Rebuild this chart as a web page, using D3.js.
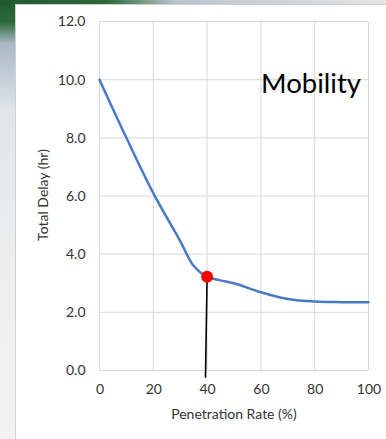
<!DOCTYPE html>
<html>
<head>
<meta charset="utf-8">
<script src="https://cdn.jsdelivr.net/npm/d3@7"></script>
<style>
  html, body { margin: 0; padding: 0; background: #ffffff; }
  svg { display: block; }
</style>
</head>
<body>
<svg id="chart" width="386" height="439"></svg>
<script>
// Penetration rate (%) and total delay (hr)
const penetration = [0, 10, 20, 30, 35, 40, 45, 50, 60, 70, 80, 90, 100];
const totalDelay  = [10.0, 8.0, 6.1, 4.45, 3.6, 3.22, 3.1, 3.0, 2.69, 2.46, 2.37, 2.35, 2.35];

const xTicks = [0, 20, 40, 60, 80, 100];
const yTicks = [0, 2, 4, 6, 8, 10, 12];

// Highlighted operating point and its marker line
const markerPoint = [40, 3.22];
const markerLine  = [[40, 3.22], [39.4, -0.25]];

const chartTitle = "Mobility";
const xTitle = "Penetration Rate (%)";
const yTitle = "Total Delay (hr)";

const FONT = "Lato, 'Open Sans', sans-serif";
const svg = d3.select("#chart");
const W = 386, H = 439;

// slide backdrop: grey frame with a green swoosh at the top-left corner
const defs = svg.append("defs");
const gLeft = defs.append("linearGradient").attr("id", "leftStrip")
  .attr("x1", 0).attr("y1", 0).attr("x2", 0).attr("y2", 1);
gLeft.append("stop").attr("offset", "0%").attr("stop-color", "#1f5a2c");
gLeft.append("stop").attr("offset", "5%").attr("stop-color", "#2d6a3a");
gLeft.append("stop").attr("offset", "10%").attr("stop-color", "#a9b8c6");
gLeft.append("stop").attr("offset", "25%").attr("stop-color", "#dfe5ea");
gLeft.append("stop").attr("offset", "60%").attr("stop-color", "#eeeeee");
gLeft.append("stop").attr("offset", "100%").attr("stop-color", "#f2f2f2");

const gTop = defs.append("linearGradient").attr("id", "topStrip")
  .attr("x1", 0).attr("y1", 0).attr("x2", 1).attr("y2", 0);
gTop.append("stop").attr("offset", "0%").attr("stop-color", "#1f5a2c");
gTop.append("stop").attr("offset", "28%").attr("stop-color", "#2d6a3a");
gTop.append("stop").attr("offset", "45%").attr("stop-color", "#b9c4cc");
gTop.append("stop").attr("offset", "100%").attr("stop-color", "#e4e4e4");

svg.append("rect").attr("x", 0).attr("y", 0).attr("width", W).attr("height", H).attr("fill", "#f2f2f2");
svg.append("rect").attr("x", 0).attr("y", 0).attr("width", 16).attr("height", H).attr("fill", "url(#leftStrip)");
svg.append("rect").attr("x", 0).attr("y", 0).attr("width", W).attr("height", 5).attr("fill", "url(#topStrip)");

// white chart panel
svg.append("rect").attr("x", 15.5).attr("y", 4.5).attr("width", W - 15).attr("height", H)
  .attr("fill", "#ffffff").attr("stroke", "#d0d0d0").attr("stroke-width", 1);

const x = d3.scaleLinear().domain([0, 100]).range([99.5, 368.5]);
const y = d3.scaleLinear().domain([0, 12]).range([370.5, 21.5]);

// gridlines
const grid = svg.append("g").attr("stroke", "#d9d9d9").attr("stroke-width", 1);
grid.selectAll("line.v").data(xTicks).join("line")
  .attr("x1", d => x(d)).attr("x2", d => x(d))
  .attr("y1", y(0)).attr("y2", y(12));
grid.selectAll("line.h").data(yTicks).join("line")
  .attr("x1", x(0)).attr("x2", x(100))
  .attr("y1", d => y(d)).attr("y2", d => y(d));

// tick labels via d3 axes with the domain and tick marks hidden
const yAxis = svg.append("g").attr("transform", `translate(${x(0)},0)`)
  .call(d3.axisLeft(y).tickValues(yTicks).tickFormat(d3.format(".1f")).tickSize(0).tickPadding(14));
const xAxis = svg.append("g").attr("transform", `translate(0,${y(0)})`)
  .call(d3.axisBottom(x).tickValues(xTicks).tickFormat(d3.format("d")).tickSize(0).tickPadding(14));
[yAxis, xAxis].forEach(a => {
  a.select(".domain").remove();
  a.selectAll("text").attr("font-family", FONT)
    .attr("font-size", 14).attr("fill", "#333333");
});

// axis titles
svg.append("text")
  .attr("x", (x(0) + x(100)) / 2).attr("y", 419)
  .attr("text-anchor", "middle").attr("font-size", 14)
  .attr("font-family", FONT).attr("fill", "#333333")
  .text(xTitle);
svg.append("text")
  .attr("transform", `translate(48,${(y(0) + y(12)) / 2 - 1}) rotate(-90)`)
  .attr("text-anchor", "middle").attr("font-size", 14)
  .attr("font-family", FONT).attr("fill", "#333333")
  .text(yTitle);

// chart title inside the plot
const title = svg.append("text")
  .attr("x", 261).attr("y", 93)
  .attr("font-size", 28).attr("font-family", FONT).attr("fill", "#000000")
  .text(chartTitle);
const tw = title.node().getComputedTextLength();
title.attr("font-size", 28 * 100 / tw);

// delay curve
const data = penetration.map((p, i) => [p, totalDelay[i]]);
svg.append("path").datum(data)
  .attr("fill", "none").attr("stroke", "#4a7ac6").attr("stroke-width", 2.5)
  .attr("stroke-linejoin", "round").attr("stroke-linecap", "round")
  .attr("d", d3.line().x(d => x(d[0])).y(d => y(d[1])).curve(d3.curveCatmullRom.alpha(0.5)));

// marker line and point
svg.append("path").datum(markerLine)
  .attr("fill", "none").attr("stroke", "#000000").attr("stroke-width", 1.6)
  .attr("d", d3.line().x(d => x(d[0])).y(d => y(d[1])));
svg.append("circle")
  .attr("cx", x(markerPoint[0])).attr("cy", y(markerPoint[1])).attr("r", 6)
  .attr("fill", "#ff0000");
</script>
</body>
</html>
